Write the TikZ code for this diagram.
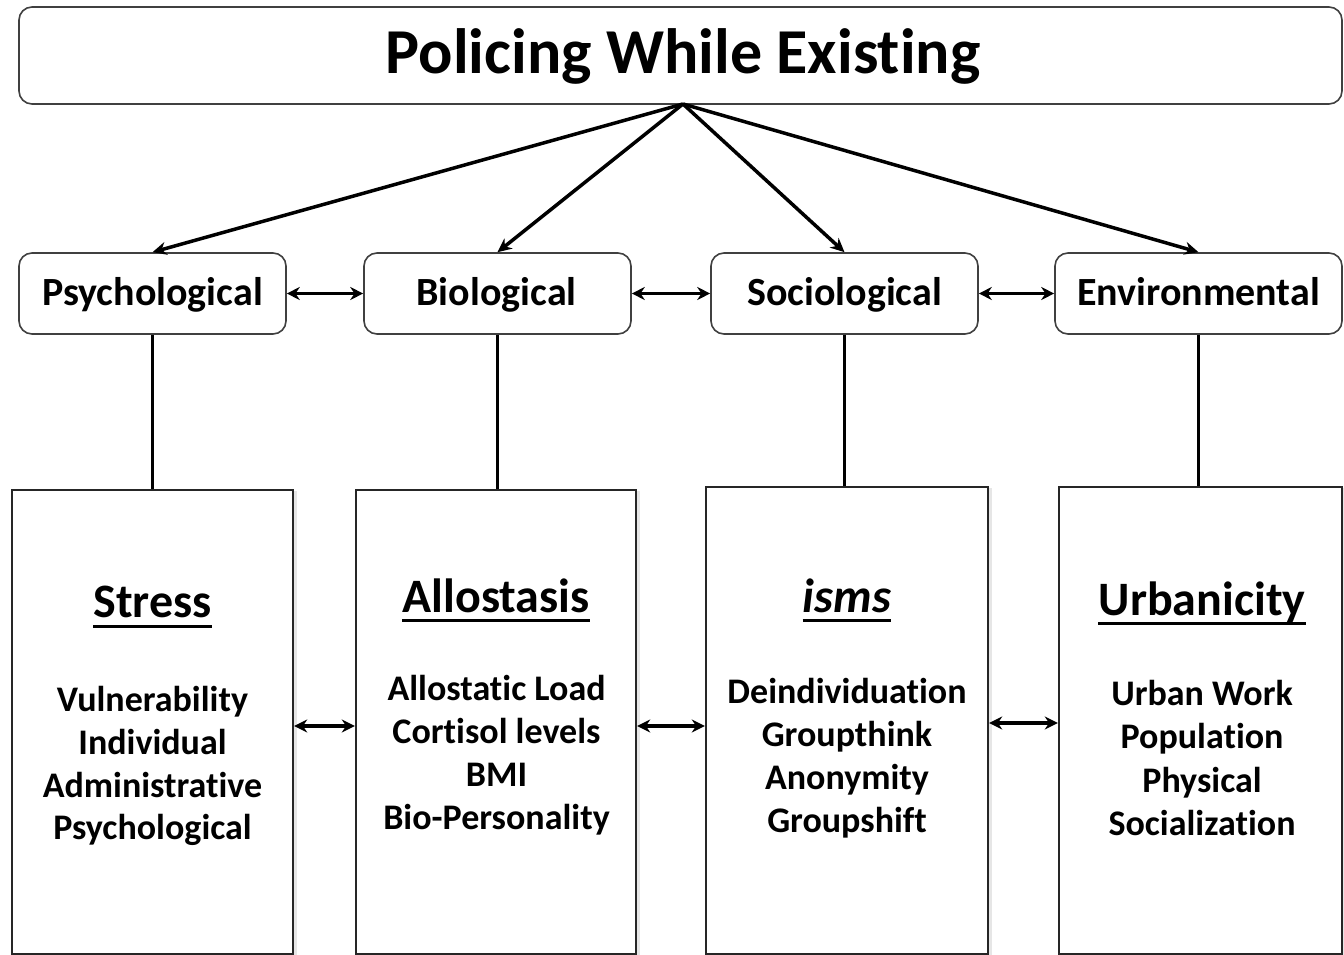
\documentclass[tikz,border=0pt]{standalone}
\usepackage{fontspec}
\setmainfont{Carlito}[RawFeature={-liga;-clig;-calt;-dlig}]
\usetikzlibrary{arrows.meta,shadows}
\begin{document}
\begin{tikzpicture}[x=1pt,y=-1pt,
  topbox/.style={draw=black!75,line width=1.6pt,rounded corners=13pt,fill=white,inner sep=0pt},
  colbox/.style={draw=black!85,line width=2.4pt,fill=white,inner sep=0pt,
    drop shadow={shadow xshift=4pt,shadow yshift=-1pt,opacity=0.2}},
  titletxt/.style={inner sep=0pt,anchor=base,font=\fontsize{64}{70}\selectfont\bfseries},
  lbl/.style={inner sep=0pt,anchor=base,font=\fontsize{40}{46}\selectfont\bfseries},
  head/.style={inner sep=0pt,anchor=base,font=\fontsize{48}{54}\selectfont\bfseries},
  item/.style={inner sep=0pt,anchor=base,font=\fontsize{36}{43}\selectfont\bfseries},
  arr/.style={line width=3.5pt,-{Stealth[length=14pt,width=13pt]}},
  dbl/.style={line width=3.5pt,{Stealth[length=13pt,width=13pt]}-{Stealth[length=13pt,width=13pt]}},
  vline/.style={line width=3pt},
  uline/.style={line width=3pt}
]
\useasboundingbox (0,0) rectangle (1344,955);

% title
\node[topbox,minimum width=1323pt,minimum height=97pt] (title) at (680.5,55.5) {};
\node[titletxt] (titlet) at (683,74) {Policing While Existing};
\coordinate (apex) at (683,104);

% middle row
\node[topbox,minimum width=267pt,minimum height=81pt] (psy) at (152.5,293.5) {};
\node[topbox,minimum width=267pt,minimum height=81pt] (bio) at (497.5,293.5) {};
\node[topbox,minimum width=267pt,minimum height=81pt] (soc) at (844.5,293.5) {};
\node[topbox,minimum width=287pt,minimum height=81pt] (env) at (1198.5,293.5) {};
\node[lbl] (psyt) at (152.5,305) {Psychological};
\node[lbl] (biot) at (496.5,305) {Biological};
\node[lbl] (soct) at (844.5,305) {Sociological};
\node[lbl] (envt) at (1198.5,305) {Environmental};

% bottom row
\node[colbox,minimum width=281pt,minimum height=464pt] (stress) at (152.5,722) {};
\node[colbox,minimum width=280pt,minimum height=464pt] (allo) at (496,722) {};
\node[colbox,minimum width=282pt,minimum height=467pt] (isms) at (847,720.5) {};
\node[colbox,minimum width=283pt,minimum height=467pt] (urb) at (1200.5,720.5) {};

% headings
\node[head] (h1) at (152.5,617) {Stress};
\node[head] (h2) at (496,612) {Allostasis};
\node[head] (h3) at (847,612) {\itshape isms};
\node[head] (h4) at (1202,615) {Urbanicity};
\draw[uline] ([yshift=-9pt]h1.base west) -- ([yshift=-9pt]h1.base east);
\draw[uline] ([yshift=-8pt]h2.base west) -- ([yshift=-8pt]h2.base east);
\draw[uline] ([yshift=-8pt]h3.base west) -- ([yshift=-8pt]h3.base east);
\draw[uline] ([yshift=-8pt]h4.base west) -- ([yshift=-8pt]h4.base east);

% items
\node[item] (s1) at (152.5,711) {Vulnerability};
\node[item] (s2) at (152.5,754) {Individual};
\node[item] (s3) at (152.5,797) {Administrative};
\node[item] (s4) at (152.5,839) {Psychological};

\node[item] (a1) at (496.5,700) {Allostatic Load};
\node[item] (a2) at (496.5,743) {Cortisol levels};
\node[item] (a3) at (496.5,786) {BMI};
\node[item] (a4) at (496.5,829) {Bio-Personality};

\node[item] (i1) at (847,703) {Deindividuation};
\node[item] (i2) at (847,746) {Groupthink};
\node[item] (i3) at (847,789) {Anonymity};
\node[item] (i4) at (847,832) {Groupshift};

\node[item] (u1) at (1202,705) {Urban Work};
\node[item] (u2) at (1202,748) {Population};
\node[item] (u3) at (1202,792) {Physical};
\node[item] (u4) at (1202,835) {Socialization};

% arrows from title
\draw[arr] (apex) -- (psy.north);
\draw[arr] (apex) -- (bio.north);
\draw[arr] (apex) -- (soc.north);
\draw[arr] (apex) -- (env.north);

% middle double arrows
\draw[dbl] (psy.east) -- (bio.west);
\draw[dbl] (bio.east) -- (soc.west);
\draw[dbl] (soc.east) -- (env.west);

% vertical links
\draw[vline] (psy.south) -- (stress.north);
\draw[vline] (bio.south) -- (bio.south |- allo.north);
\draw[vline] (soc.south) -- (soc.south |- isms.north);
\draw[vline] (env.south) -- (env.south |- urb.north);

% bottom double arrows
\draw[dbl] ([yshift=-4pt]stress.east) -- ([yshift=-4pt]allo.west);
\draw[dbl] ([yshift=-4pt]allo.east) -- ([yshift=-4pt]allo.east -| isms.west);
\draw[dbl] ([yshift=-2.5pt]isms.east) -- ([yshift=-2.5pt]urb.west);
\end{tikzpicture}
\end{document}
